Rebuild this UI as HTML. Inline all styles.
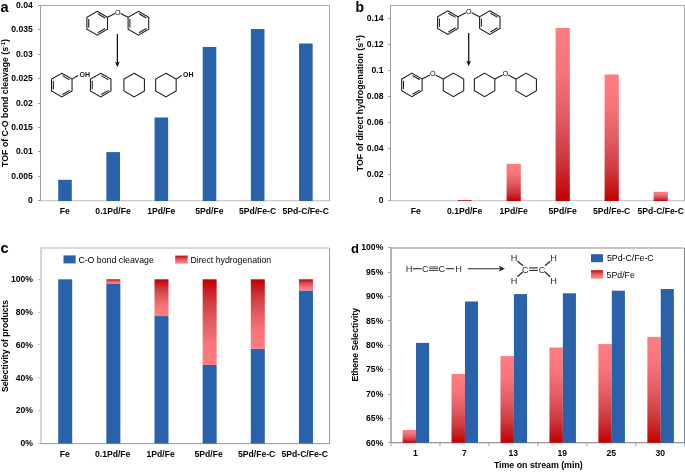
<!DOCTYPE html>
<html><head><meta charset="utf-8"><style>
html,body{margin:0;padding:0;background:#fff;}
svg{display:block;will-change:transform;font-family:"Liberation Sans",sans-serif;}
</style></head><body>
<svg width="685" height="472" viewBox="0 0 685 472">
<rect width="685" height="472" fill="#fff"/>
<defs>
<linearGradient id="gUp" x1="0" y1="0" x2="0" y2="1"><stop offset="0" stop-color="#ff7c80"/><stop offset="0.25" stop-color="#f7747a"/><stop offset="0.5" stop-color="#e35d63"/><stop offset="0.75" stop-color="#cf3a40"/><stop offset="1" stop-color="#c00000"/></linearGradient>
<linearGradient id="gDn" x1="0" y1="0" x2="0" y2="1"><stop offset="0" stop-color="#c00000"/><stop offset="0.25" stop-color="#cf3a40"/><stop offset="0.5" stop-color="#e35d63"/><stop offset="0.75" stop-color="#f7747a"/><stop offset="1" stop-color="#ff7c80"/></linearGradient>
</defs>
<rect x="40.00" y="200.00" width="290.00" height="1.00" fill="#cbcbcb"/>
<rect x="40.00" y="201.00" width="290.00" height="1.00" fill="#f2f2f2"/>
<rect x="40.00" y="5.00" width="290.00" height="1.00" fill="#a8a8a8"/>
<rect x="329.00" y="5.00" width="1.00" height="196.00" fill="#a8a8a8"/>
<rect x="40.00" y="5.00" width="1.00" height="196.00" fill="#a0a0a0"/>
<rect x="38.00" y="200.00" width="2.00" height="1.00" fill="#a0a0a0"/>
<text x="32.80" y="203.10" font-size="8.6" text-anchor="end" font-weight="bold" fill="#000" >0</text>
<rect x="38.00" y="176.00" width="2.00" height="1.00" fill="#a0a0a0"/>
<text x="32.80" y="178.72" font-size="8.6" text-anchor="end" font-weight="bold" fill="#000" >0.005</text>
<rect x="38.00" y="151.00" width="2.00" height="1.00" fill="#a0a0a0"/>
<text x="32.80" y="154.35" font-size="8.6" text-anchor="end" font-weight="bold" fill="#000" >0.01</text>
<rect x="38.00" y="127.00" width="2.00" height="1.00" fill="#a0a0a0"/>
<text x="32.80" y="129.97" font-size="8.6" text-anchor="end" font-weight="bold" fill="#000" >0.015</text>
<rect x="38.00" y="103.00" width="2.00" height="1.00" fill="#a0a0a0"/>
<text x="32.80" y="105.60" font-size="8.6" text-anchor="end" font-weight="bold" fill="#000" >0.02</text>
<rect x="38.00" y="78.00" width="2.00" height="1.00" fill="#a0a0a0"/>
<text x="32.80" y="81.22" font-size="8.6" text-anchor="end" font-weight="bold" fill="#000" >0.025</text>
<rect x="38.00" y="54.00" width="2.00" height="1.00" fill="#a0a0a0"/>
<text x="32.80" y="56.85" font-size="8.6" text-anchor="end" font-weight="bold" fill="#000" >0.03</text>
<rect x="38.00" y="29.00" width="2.00" height="1.00" fill="#a0a0a0"/>
<text x="32.80" y="32.48" font-size="8.6" text-anchor="end" font-weight="bold" fill="#000" >0.035</text>
<rect x="38.00" y="5.00" width="2.00" height="1.00" fill="#a0a0a0"/>
<text x="32.80" y="8.10" font-size="8.6" text-anchor="end" font-weight="bold" fill="#000" >0.04</text>
<rect x="58.20" y="179.80" width="13.60" height="21.20" fill="#2962ab"/>
<rect x="106.37" y="152.10" width="13.60" height="48.90" fill="#2962ab"/>
<rect x="154.54" y="117.50" width="13.60" height="83.50" fill="#2962ab"/>
<rect x="202.71" y="47.00" width="13.60" height="154.00" fill="#2962ab"/>
<rect x="250.88" y="29.00" width="13.60" height="172.00" fill="#2962ab"/>
<rect x="299.05" y="43.50" width="13.60" height="157.50" fill="#2962ab"/>
<text x="64.89" y="214.10" font-size="8.6" text-anchor="middle" font-weight="bold" fill="#000" >Fe</text>
<text x="113.05" y="214.10" font-size="8.6" text-anchor="middle" font-weight="bold" fill="#000" >0.1Pd/Fe</text>
<text x="161.23" y="214.10" font-size="8.6" text-anchor="middle" font-weight="bold" fill="#000" >1Pd/Fe</text>
<text x="209.40" y="214.10" font-size="8.6" text-anchor="middle" font-weight="bold" fill="#000" >5Pd/Fe</text>
<text x="257.56" y="214.10" font-size="8.6" text-anchor="middle" font-weight="bold" fill="#000" >5Pd/Fe-C</text>
<text x="305.74" y="214.10" font-size="8.6" text-anchor="middle" font-weight="bold" fill="#000" >5Pd-C/Fe-C</text>
<text x="0.60" y="12.00" font-size="14.5" text-anchor="start" font-weight="bold" fill="#000" >a</text>
<text transform="translate(8.00,103.00) rotate(-90)" font-size="8.75" font-weight="bold" text-anchor="middle">TOF of C-O bond cleavage (s<tspan font-size="5.5" dy="-3">-1</tspan><tspan dy="3">)</tspan></text>
<path d="M97.20,11.30 L107.51,17.25 L107.51,29.15 L97.20,35.10 L86.89,29.15 L86.89,17.25 Z" fill="none" stroke="#1a1a1a" stroke-width="1.05" stroke-linejoin="miter"/>
<line x1="97.80" y1="13.72" x2="105.11" y2="17.95" stroke="#1a1a1a" stroke-width="1.05"/>
<line x1="105.11" y1="28.45" x2="97.80" y2="32.68" stroke="#1a1a1a" stroke-width="1.05"/>
<line x1="88.69" y1="27.42" x2="88.69" y2="18.98" stroke="#1a1a1a" stroke-width="1.05"/>
<path d="M138.40,11.30 L148.71,17.25 L148.71,29.15 L138.40,35.10 L128.09,29.15 L128.09,17.25 Z" fill="none" stroke="#1a1a1a" stroke-width="1.05" stroke-linejoin="miter"/>
<line x1="139.00" y1="13.72" x2="146.31" y2="17.95" stroke="#1a1a1a" stroke-width="1.05"/>
<line x1="146.31" y1="28.45" x2="139.00" y2="32.68" stroke="#1a1a1a" stroke-width="1.05"/>
<line x1="129.89" y1="27.42" x2="129.89" y2="18.98" stroke="#1a1a1a" stroke-width="1.05"/>
<line x1="107.51" y1="17.25" x2="114.95" y2="13.45" stroke="#1a1a1a" stroke-width="1.05"/>
<line x1="128.09" y1="17.25" x2="120.65" y2="13.45" stroke="#1a1a1a" stroke-width="1.05"/>
<text x="117.80" y="14.50" font-size="7.2" fill="#000" text-anchor="middle">O</text>
<line x1="117.4" y1="34" x2="117.4" y2="64" stroke="#111" stroke-width="1.25"/>
<path d="M115.0,61.4 L117.4,63.0 L119.80000000000001,61.4 L117.4,67.2 Z" fill="#111"/>
<path d="M61.80,73.25 L72.06,79.17 L72.06,91.02 L61.80,96.95 L51.54,91.02 L51.54,79.17 Z" fill="none" stroke="#1a1a1a" stroke-width="1.05" stroke-linejoin="miter"/>
<line x1="62.39" y1="75.67" x2="69.67" y2="79.87" stroke="#1a1a1a" stroke-width="1.05"/>
<line x1="69.67" y1="90.33" x2="62.39" y2="94.53" stroke="#1a1a1a" stroke-width="1.05"/>
<line x1="53.34" y1="89.30" x2="53.34" y2="80.90" stroke="#1a1a1a" stroke-width="1.05"/>
<line x1="72.06" y1="79.17" x2="78.10" y2="75.50" stroke="#1a1a1a" stroke-width="1.05"/>
<text x="79.60" y="76.70" font-size="7" font-weight="bold" fill="#111">OH</text>
<path d="M100.70,73.25 L110.96,79.17 L110.96,91.02 L100.70,96.95 L90.44,91.02 L90.44,79.17 Z" fill="none" stroke="#1a1a1a" stroke-width="1.05" stroke-linejoin="miter"/>
<line x1="101.29" y1="75.67" x2="108.57" y2="79.87" stroke="#1a1a1a" stroke-width="1.05"/>
<line x1="108.57" y1="90.33" x2="101.29" y2="94.53" stroke="#1a1a1a" stroke-width="1.05"/>
<line x1="92.24" y1="89.30" x2="92.24" y2="80.90" stroke="#1a1a1a" stroke-width="1.05"/>
<path d="M134.15,73.25 L144.41,79.17 L144.41,91.02 L134.15,96.95 L123.89,91.02 L123.89,79.17 Z" fill="none" stroke="#1a1a1a" stroke-width="1.05" stroke-linejoin="miter"/>
<path d="M165.90,73.25 L176.16,79.17 L176.16,91.02 L165.90,96.95 L155.64,91.02 L155.64,79.17 Z" fill="none" stroke="#1a1a1a" stroke-width="1.05" stroke-linejoin="miter"/>
<line x1="176.16" y1="79.17" x2="181.50" y2="75.50" stroke="#1a1a1a" stroke-width="1.05"/>
<text x="183.00" y="76.70" font-size="7" font-weight="bold" fill="#111">OH</text>
<rect x="390.00" y="200.00" width="295.00" height="1.00" fill="#cbcbcb"/>
<rect x="390.00" y="201.00" width="295.00" height="1.00" fill="#f2f2f2"/>
<rect x="390.00" y="5.00" width="295.00" height="1.00" fill="#a8a8a8"/>
<rect x="684.00" y="5.00" width="1.00" height="196.00" fill="#a8a8a8"/>
<rect x="390.00" y="5.00" width="1.00" height="196.00" fill="#a0a0a0"/>
<rect x="388.00" y="200.00" width="2.00" height="1.00" fill="#a0a0a0"/>
<text x="383.50" y="203.10" font-size="8.6" text-anchor="end" font-weight="bold" fill="#000" >0</text>
<rect x="388.00" y="174.00" width="2.00" height="1.00" fill="#a0a0a0"/>
<text x="383.50" y="177.10" font-size="8.6" text-anchor="end" font-weight="bold" fill="#000" >0.02</text>
<rect x="388.00" y="148.00" width="2.00" height="1.00" fill="#a0a0a0"/>
<text x="383.50" y="151.10" font-size="8.6" text-anchor="end" font-weight="bold" fill="#000" >0.04</text>
<rect x="388.00" y="122.00" width="2.00" height="1.00" fill="#a0a0a0"/>
<text x="383.50" y="125.10" font-size="8.6" text-anchor="end" font-weight="bold" fill="#000" >0.06</text>
<rect x="388.00" y="96.00" width="2.00" height="1.00" fill="#a0a0a0"/>
<text x="383.50" y="99.10" font-size="8.6" text-anchor="end" font-weight="bold" fill="#000" >0.08</text>
<rect x="388.00" y="70.00" width="2.00" height="1.00" fill="#a0a0a0"/>
<text x="383.50" y="73.10" font-size="8.6" text-anchor="end" font-weight="bold" fill="#000" >0.1</text>
<rect x="388.00" y="44.00" width="2.00" height="1.00" fill="#a0a0a0"/>
<text x="383.50" y="47.10" font-size="8.6" text-anchor="end" font-weight="bold" fill="#000" >0.12</text>
<rect x="388.00" y="18.00" width="2.00" height="1.00" fill="#a0a0a0"/>
<text x="383.50" y="21.10" font-size="8.6" text-anchor="end" font-weight="bold" fill="#000" >0.14</text>
<rect x="457.60" y="200.00" width="14.20" height="1.00" fill="#c8323a"/>
<rect x="506.60" y="163.80" width="14.20" height="37.20" fill="url(#gUp)"/>
<rect x="555.60" y="28.00" width="14.20" height="173.00" fill="url(#gUp)"/>
<rect x="604.60" y="74.50" width="14.20" height="126.50" fill="url(#gUp)"/>
<rect x="653.60" y="191.80" width="14.20" height="9.20" fill="url(#gUp)"/>
<text x="415.70" y="214.10" font-size="8.6" text-anchor="middle" font-weight="bold" fill="#000" >Fe</text>
<text x="464.70" y="214.10" font-size="8.6" text-anchor="middle" font-weight="bold" fill="#000" >0.1Pd/Fe</text>
<text x="513.70" y="214.10" font-size="8.6" text-anchor="middle" font-weight="bold" fill="#000" >1Pd/Fe</text>
<text x="562.70" y="214.10" font-size="8.6" text-anchor="middle" font-weight="bold" fill="#000" >5Pd/Fe</text>
<text x="611.70" y="214.10" font-size="8.6" text-anchor="middle" font-weight="bold" fill="#000" >5Pd/Fe-C</text>
<text x="660.70" y="214.10" font-size="8.6" text-anchor="middle" font-weight="bold" fill="#000" >5Pd-C/Fe-C</text>
<text x="355.40" y="12.20" font-size="13.9" text-anchor="start" font-weight="bold" fill="#000" >b</text>
<text transform="translate(363.20,103.10) rotate(-90)" font-size="8.8" font-weight="bold" text-anchor="middle">TOF of direct hydrogenation (s<tspan font-size="5.5" dy="-3">-1</tspan><tspan dy="3">)</tspan></text>
<path d="M447.80,10.80 L458.02,16.70 L458.02,28.50 L447.80,34.40 L437.58,28.50 L437.58,16.70 Z" fill="none" stroke="#1a1a1a" stroke-width="1.05" stroke-linejoin="miter"/>
<line x1="448.39" y1="13.22" x2="455.63" y2="17.40" stroke="#1a1a1a" stroke-width="1.05"/>
<line x1="455.63" y1="27.80" x2="448.39" y2="31.98" stroke="#1a1a1a" stroke-width="1.05"/>
<line x1="439.38" y1="26.78" x2="439.38" y2="18.42" stroke="#1a1a1a" stroke-width="1.05"/>
<path d="M489.80,10.80 L500.02,16.70 L500.02,28.50 L489.80,34.40 L479.58,28.50 L479.58,16.70 Z" fill="none" stroke="#1a1a1a" stroke-width="1.05" stroke-linejoin="miter"/>
<line x1="490.39" y1="13.22" x2="497.63" y2="17.40" stroke="#1a1a1a" stroke-width="1.05"/>
<line x1="497.63" y1="27.80" x2="490.39" y2="31.98" stroke="#1a1a1a" stroke-width="1.05"/>
<line x1="481.38" y1="26.78" x2="481.38" y2="18.42" stroke="#1a1a1a" stroke-width="1.05"/>
<line x1="458.02" y1="16.70" x2="465.93" y2="12.81" stroke="#1a1a1a" stroke-width="1.05"/>
<line x1="479.58" y1="16.70" x2="471.67" y2="12.81" stroke="#1a1a1a" stroke-width="1.05"/>
<text x="468.80" y="13.90" font-size="7.2" fill="#000" text-anchor="middle">O</text>
<line x1="468.7" y1="33" x2="468.7" y2="63" stroke="#111" stroke-width="1.25"/>
<path d="M466.3,60.4 L468.7,62.0 L471.09999999999997,60.4 L468.7,66.2 Z" fill="#111"/>
<path d="M411.90,73.10 L422.12,79.00 L422.12,90.80 L411.90,96.70 L401.68,90.80 L401.68,79.00 Z" fill="none" stroke="#1a1a1a" stroke-width="1.05" stroke-linejoin="miter"/>
<line x1="412.49" y1="75.52" x2="419.73" y2="79.70" stroke="#1a1a1a" stroke-width="1.05"/>
<line x1="419.73" y1="90.10" x2="412.49" y2="94.28" stroke="#1a1a1a" stroke-width="1.05"/>
<line x1="403.48" y1="89.08" x2="403.48" y2="80.72" stroke="#1a1a1a" stroke-width="1.05"/>
<path d="M453.50,73.10 L463.72,79.00 L463.72,90.80 L453.50,96.70 L443.28,90.80 L443.28,79.00 Z" fill="none" stroke="#1a1a1a" stroke-width="1.05" stroke-linejoin="miter"/>
<line x1="422.12" y1="79.00" x2="429.85" y2="75.05" stroke="#1a1a1a" stroke-width="1.05"/>
<line x1="443.28" y1="79.00" x2="435.55" y2="75.05" stroke="#1a1a1a" stroke-width="1.05"/>
<text x="432.70" y="76.10" font-size="7.2" fill="#000" text-anchor="middle">O</text>
<path d="M484.60,73.10 L494.82,79.00 L494.82,90.80 L484.60,96.70 L474.38,90.80 L474.38,79.00 Z" fill="none" stroke="#1a1a1a" stroke-width="1.05" stroke-linejoin="miter"/>
<path d="M526.20,73.10 L536.42,79.00 L536.42,90.80 L526.20,96.70 L515.98,90.80 L515.98,79.00 Z" fill="none" stroke="#1a1a1a" stroke-width="1.05" stroke-linejoin="miter"/>
<line x1="494.82" y1="79.00" x2="502.55" y2="75.05" stroke="#1a1a1a" stroke-width="1.05"/>
<line x1="515.98" y1="79.00" x2="508.25" y2="75.05" stroke="#1a1a1a" stroke-width="1.05"/>
<text x="505.40" y="76.10" font-size="7.2" fill="#000" text-anchor="middle">O</text>
<rect x="41.00" y="247.00" width="288.00" height="2.00" fill="#dadada"/>
<rect x="40.00" y="247.00" width="2.00" height="197.00" fill="#d6d6d6"/>
<rect x="329.00" y="248.00" width="1.00" height="196.00" fill="#9c9c9c"/>
<rect x="40.00" y="443.00" width="290.00" height="1.00" fill="#a0a0a0"/>
<rect x="40.00" y="444.00" width="290.00" height="1.00" fill="#f4f4f4"/>
<rect x="38.00" y="443.00" width="2.00" height="1.00" fill="#c8c8c8"/>
<text x="33.00" y="446.30" font-size="8.6" text-anchor="end" font-weight="bold" fill="#000" >0%</text>
<rect x="38.00" y="410.00" width="2.00" height="1.00" fill="#c8c8c8"/>
<text x="33.00" y="413.48" font-size="8.6" text-anchor="end" font-weight="bold" fill="#000" >20%</text>
<rect x="38.00" y="377.00" width="2.00" height="1.00" fill="#c8c8c8"/>
<text x="33.00" y="380.66" font-size="8.6" text-anchor="end" font-weight="bold" fill="#000" >40%</text>
<rect x="38.00" y="344.00" width="2.00" height="1.00" fill="#c8c8c8"/>
<text x="33.00" y="347.84" font-size="8.6" text-anchor="end" font-weight="bold" fill="#000" >60%</text>
<rect x="38.00" y="312.00" width="2.00" height="1.00" fill="#c8c8c8"/>
<text x="33.00" y="315.02" font-size="8.6" text-anchor="end" font-weight="bold" fill="#000" >80%</text>
<rect x="38.00" y="279.00" width="2.00" height="1.00" fill="#c8c8c8"/>
<text x="33.00" y="282.20" font-size="8.6" text-anchor="end" font-weight="bold" fill="#000" >100%</text>
<rect x="58.20" y="279.30" width="14.00" height="164.20" fill="#2962ab"/>
<rect x="106.35" y="283.40" width="14.00" height="160.10" fill="#2962ab"/>
<rect x="106.35" y="279.30" width="14.00" height="4.10" fill="url(#gDn)"/>
<rect x="154.50" y="316.06" width="14.00" height="127.44" fill="#2962ab"/>
<rect x="154.50" y="279.30" width="14.00" height="36.76" fill="url(#gDn)"/>
<rect x="202.65" y="364.96" width="14.00" height="78.54" fill="#2962ab"/>
<rect x="202.65" y="279.30" width="14.00" height="85.66" fill="url(#gDn)"/>
<rect x="250.80" y="348.71" width="14.00" height="94.79" fill="#2962ab"/>
<rect x="250.80" y="279.30" width="14.00" height="69.41" fill="url(#gDn)"/>
<rect x="298.95" y="290.46" width="14.00" height="153.04" fill="#2962ab"/>
<rect x="298.95" y="279.30" width="14.00" height="11.16" fill="url(#gDn)"/>
<text x="64.70" y="457.00" font-size="8.6" text-anchor="middle" font-weight="bold" fill="#000" >Fe</text>
<text x="112.70" y="457.00" font-size="8.6" text-anchor="middle" font-weight="bold" fill="#000" >0.1Pd/Fe</text>
<text x="160.70" y="457.00" font-size="8.6" text-anchor="middle" font-weight="bold" fill="#000" >1Pd/Fe</text>
<text x="208.70" y="457.00" font-size="8.6" text-anchor="middle" font-weight="bold" fill="#000" >5Pd/Fe</text>
<text x="256.70" y="457.00" font-size="8.6" text-anchor="middle" font-weight="bold" fill="#000" >5Pd/Fe-C</text>
<text x="304.70" y="457.00" font-size="8.6" text-anchor="middle" font-weight="bold" fill="#000" >5Pd-C/Fe-C</text>
<text x="0.60" y="253.00" font-size="14.5" text-anchor="start" font-weight="bold" fill="#000" >c</text>
<text transform="translate(8.10,346.00) rotate(-90)" font-size="8.6" font-weight="bold" text-anchor="middle">Selectivity of products</text>
<rect x="63.50" y="255.40" width="12.10" height="8.00" fill="#2962ab"/>
<text x="78.40" y="262.60" font-size="8.75" text-anchor="start" font-weight="normal" fill="#000" >C-O bond cleavage</text>
<rect x="175.20" y="255.60" width="12.50" height="8.00" fill="url(#gDn)"/>
<text x="190.40" y="262.60" font-size="8.75" text-anchor="start" font-weight="normal" fill="#000" >Direct hydrogenation</text>
<rect x="391.00" y="247.00" width="293.00" height="2.00" fill="#c4c4c4"/>
<rect x="390.00" y="247.00" width="2.00" height="196.00" fill="#b4b4b4"/>
<rect x="684.00" y="248.00" width="1.00" height="195.00" fill="#808080"/>
<rect x="390.00" y="442.00" width="295.00" height="1.00" fill="#9c9c9c"/>
<rect x="390.00" y="443.00" width="295.00" height="1.00" fill="#dcdcdc"/>
<line x1="391.00" y1="442.00" x2="391.00" y2="446.00" stroke="#a0a0a0" stroke-width="1"/>
<line x1="439.95" y1="442.00" x2="439.95" y2="446.00" stroke="#a0a0a0" stroke-width="1"/>
<line x1="488.90" y1="442.00" x2="488.90" y2="446.00" stroke="#a0a0a0" stroke-width="1"/>
<line x1="537.85" y1="442.00" x2="537.85" y2="446.00" stroke="#a0a0a0" stroke-width="1"/>
<line x1="586.80" y1="442.00" x2="586.80" y2="446.00" stroke="#a0a0a0" stroke-width="1"/>
<line x1="635.75" y1="442.00" x2="635.75" y2="446.00" stroke="#a0a0a0" stroke-width="1"/>
<line x1="684.70" y1="442.00" x2="684.70" y2="446.00" stroke="#a0a0a0" stroke-width="1"/>
<rect x="388.00" y="442.00" width="2.00" height="1.00" fill="#a0a0a0"/>
<text x="383.30" y="445.60" font-size="8.6" text-anchor="end" font-weight="bold" fill="#000" >60%</text>
<rect x="388.00" y="418.00" width="2.00" height="1.00" fill="#a0a0a0"/>
<text x="383.30" y="421.21" font-size="8.6" text-anchor="end" font-weight="bold" fill="#000" >65%</text>
<rect x="388.00" y="394.00" width="2.00" height="1.00" fill="#a0a0a0"/>
<text x="383.30" y="396.82" font-size="8.6" text-anchor="end" font-weight="bold" fill="#000" >70%</text>
<rect x="388.00" y="369.00" width="2.00" height="1.00" fill="#a0a0a0"/>
<text x="383.30" y="372.43" font-size="8.6" text-anchor="end" font-weight="bold" fill="#000" >75%</text>
<rect x="388.00" y="345.00" width="2.00" height="1.00" fill="#a0a0a0"/>
<text x="383.30" y="348.04" font-size="8.6" text-anchor="end" font-weight="bold" fill="#000" >80%</text>
<rect x="388.00" y="320.00" width="2.00" height="1.00" fill="#a0a0a0"/>
<text x="383.30" y="323.65" font-size="8.6" text-anchor="end" font-weight="bold" fill="#000" >85%</text>
<rect x="388.00" y="296.00" width="2.00" height="1.00" fill="#a0a0a0"/>
<text x="383.30" y="299.26" font-size="8.6" text-anchor="end" font-weight="bold" fill="#000" >90%</text>
<rect x="388.00" y="272.00" width="2.00" height="1.00" fill="#a0a0a0"/>
<text x="383.30" y="274.87" font-size="8.6" text-anchor="end" font-weight="bold" fill="#000" >95%</text>
<rect x="388.00" y="247.00" width="2.00" height="1.00" fill="#a0a0a0"/>
<text x="383.30" y="250.48" font-size="8.6" text-anchor="end" font-weight="bold" fill="#000" >100%</text>
<rect x="402.60" y="430.00" width="13.40" height="12.80" fill="url(#gUp)"/>
<rect x="416.00" y="342.90" width="13.10" height="99.90" fill="#2962ab"/>
<rect x="451.55" y="374.00" width="13.40" height="68.80" fill="url(#gUp)"/>
<rect x="464.95" y="301.50" width="13.10" height="141.30" fill="#2962ab"/>
<rect x="500.50" y="356.10" width="13.40" height="86.70" fill="url(#gUp)"/>
<rect x="513.90" y="294.10" width="13.10" height="148.70" fill="#2962ab"/>
<rect x="549.45" y="347.50" width="13.40" height="95.30" fill="url(#gUp)"/>
<rect x="562.85" y="293.30" width="13.10" height="149.50" fill="#2962ab"/>
<rect x="598.40" y="344.10" width="13.40" height="98.70" fill="url(#gUp)"/>
<rect x="611.80" y="290.70" width="13.10" height="152.10" fill="#2962ab"/>
<rect x="647.35" y="336.90" width="13.40" height="105.90" fill="url(#gUp)"/>
<rect x="660.75" y="289.00" width="13.10" height="153.80" fill="#2962ab"/>
<text x="415.48" y="456.10" font-size="8.6" text-anchor="middle" font-weight="bold" fill="#000" >1</text>
<text x="464.43" y="456.10" font-size="8.6" text-anchor="middle" font-weight="bold" fill="#000" >7</text>
<text x="513.38" y="456.10" font-size="8.6" text-anchor="middle" font-weight="bold" fill="#000" >13</text>
<text x="562.33" y="456.10" font-size="8.6" text-anchor="middle" font-weight="bold" fill="#000" >19</text>
<text x="611.27" y="456.10" font-size="8.6" text-anchor="middle" font-weight="bold" fill="#000" >25</text>
<text x="660.23" y="456.10" font-size="8.6" text-anchor="middle" font-weight="bold" fill="#000" >30</text>
<text x="538.30" y="467.50" font-size="8.8" text-anchor="middle" font-weight="bold" fill="#000" >Time on stream (min)</text>
<text x="351.00" y="252.60" font-size="13" text-anchor="start" font-weight="bold" fill="#000" >d</text>
<text transform="translate(358.00,344.80) rotate(-90)" font-size="8.6" font-weight="bold" text-anchor="middle">Ethene Selectivity</text>
<rect x="591.00" y="254.20" width="12.00" height="8.00" fill="#2962ab"/>
<text x="607.00" y="261.20" font-size="8.75" text-anchor="start" font-weight="normal" fill="#000" >5Pd-C/Fe-C</text>
<rect x="591.00" y="270.20" width="12.00" height="8.30" fill="url(#gDn)"/>
<text x="606.60" y="278.30" font-size="8.75" text-anchor="start" font-weight="normal" fill="#000" >5Pd/Fe</text>
<text x="409.10" y="271.80" font-size="9.2" fill="#2a2a2a" text-anchor="middle">H</text>
<line x1="412.80" y1="268.70" x2="421.50" y2="268.70" stroke="#2a2a2a" stroke-width="1.1"/>
<text x="425.30" y="271.80" font-size="9.2" fill="#2a2a2a" text-anchor="middle">C</text>
<line x1="429.10" y1="266.90" x2="438.30" y2="266.90" stroke="#2a2a2a" stroke-width="0.85"/>
<line x1="429.10" y1="268.70" x2="438.30" y2="268.70" stroke="#2a2a2a" stroke-width="0.85"/>
<line x1="429.10" y1="270.50" x2="438.30" y2="270.50" stroke="#2a2a2a" stroke-width="0.85"/>
<text x="441.90" y="271.80" font-size="9.2" fill="#2a2a2a" text-anchor="middle">C</text>
<line x1="446.00" y1="268.70" x2="454.10" y2="268.70" stroke="#2a2a2a" stroke-width="1.1"/>
<text x="458.50" y="271.80" font-size="9.2" fill="#2a2a2a" text-anchor="middle">H</text>
<line x1="467.70" y1="268.70" x2="501.00" y2="268.70" stroke="#2a2a2a" stroke-width="1.1"/>
<path d="M505,268.7 L498.6,265.6 L500.4,268.7 L498.6,271.8 Z" fill="#2a2a2a"/>
<text x="514.00" y="260.70" font-size="9.2" fill="#2a2a2a" text-anchor="middle">H</text>
<text x="525.40" y="272.50" font-size="9.2" fill="#2a2a2a" text-anchor="middle">C</text>
<text x="542.00" y="272.50" font-size="9.2" fill="#2a2a2a" text-anchor="middle">C</text>
<text x="553.50" y="260.70" font-size="9.2" fill="#2a2a2a" text-anchor="middle">H</text>
<text x="514.00" y="283.70" font-size="9.2" fill="#2a2a2a" text-anchor="middle">H</text>
<text x="553.50" y="283.70" font-size="9.2" fill="#2a2a2a" text-anchor="middle">H</text>
<line x1="529.20" y1="267.90" x2="537.90" y2="267.90" stroke="#2a2a2a" stroke-width="1.1"/>
<line x1="529.20" y1="270.40" x2="537.90" y2="270.40" stroke="#2a2a2a" stroke-width="1.1"/>
<line x1="517.50" y1="261.20" x2="523.10" y2="265.80" stroke="#2a2a2a" stroke-width="1.3"/>
<line x1="517.50" y1="276.80" x2="522.60" y2="272.00" stroke="#2a2a2a" stroke-width="1.3"/>
<line x1="550.20" y1="261.20" x2="545.00" y2="265.80" stroke="#2a2a2a" stroke-width="1.3"/>
<line x1="550.20" y1="276.80" x2="545.00" y2="272.00" stroke="#2a2a2a" stroke-width="1.3"/>
</svg>
</body></html>
